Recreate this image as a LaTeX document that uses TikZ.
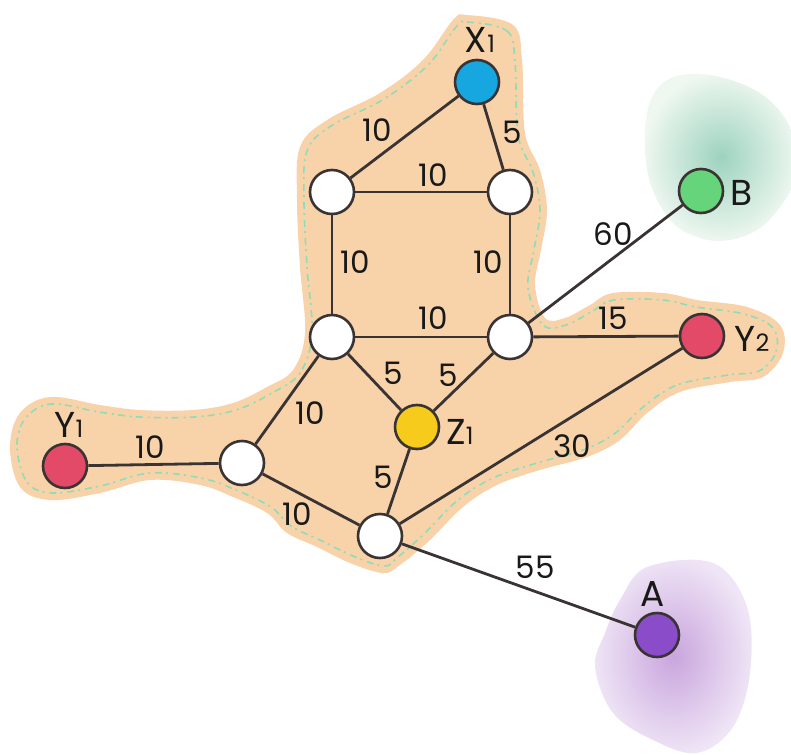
\documentclass[tikz,border=0pt]{standalone}
\usepackage{fontspec}
\setmainfont{Poppins}
\definecolor{peach}{HTML}{F8D3AA}
\definecolor{speck}{HTML}{8EDDB8}
\definecolor{edgec}{HTML}{3A3333}
\definecolor{xblue}{HTML}{17A7E0}
\definecolor{bgreen}{HTML}{66D47A}
\definecolor{yred}{HTML}{E24A68}
\definecolor{zyellow}{HTML}{F6CB1C}
\definecolor{apurple}{HTML}{8A4CC8}
\definecolor{greenin}{HTML}{9DD3BE}
\definecolor{greenout}{HTML}{EEF7F0}
\definecolor{purpin}{HTML}{C9A5DD}
\definecolor{purpout}{HTML}{EFE5F6}
\begin{document}
\begin{tikzpicture}[x=1pt,y=-1pt,
  vertex/.style={circle,draw=edgec,line width=2.6pt,minimum size=44pt,inner sep=0pt,fill=white},
  link/.style={draw=edgec,line width=2.8pt},
  wlabel/.style={font=\fontsize{31}{32}\selectfont,text=black!90,inner sep=0pt},
  nlabel/.style={font=\fontsize{36}{38}\selectfont,text=black!90,inner sep=0pt},
  subs/.style={},
  blob/.style={smooth cycle,tension=0.6}]
\useasboundingbox (0,0) rectangle (791,754);
% background regions
\fill[peach] plot[blob] coordinates {(467,15) (513,25) (522,60) (525,133) (540,170) (547,210) (541,250) (535,285) (545,318) (565,318) (590,305) (613,293) (663,293) (697,300) (747,307) (780,325) (783,353) (763,377) (730,382) (680,392) (647,413) (620,440) (587,457) (540,470) (497,485) (463,507) (430,540) (400,565) (383,573) (350,563) (317,547) (287,533) (267,513) (233,497) (200,485) (150,480) (100,493) (50,500) (20,487) (10,447) (20,413) (50,397) (100,405) (140,410) (193,410) (233,403) (267,387) (293,370) (305,333) (300,267) (297,200) (300,147) (327,120) (380,93) (423,60) (453,20)};
\draw[speck,line width=1.6pt,dash pattern=on 7pt off 5pt on 2pt off 4pt] plot[blob] coordinates {(467,22) (507,31) (515,62) (518,135) (533,172) (540,210) (534,250) (528,288) (543,325) (566,325) (591,312) (614,300) (663,300) (696,307) (744,314) (773,328) (776,352) (759,371) (728,375) (677,385) (642,408) (614,434) (583,450) (537,463) (493,478) (458,500) (425,533) (398,557) (384,566) (353,556) (320,540) (291,526) (271,507) (236,490) (201,478) (150,473) (100,486) (52,493) (27,482) (17,447) (25,419) (51,404) (99,412) (140,417) (194,417) (236,410) (272,393) (300,373) (312,333) (307,267) (304,200) (307,151) (331,126) (384,99) (428,65) (456,27)};
\shade[inner color=greenin,outer color=greenout] plot[blob] coordinates {(667,80) (710,75) (760,93) (790,127) (797,170) (785,200) (760,228) (730,240) (700,238) (670,220) (648,175) (647,113)};
\shade[inner color=purpin,outer color=purpout] plot[blob] coordinates {(620,600) (647,567) (713,563) (747,607) (750,673) (733,727) (697,753) (653,740) (613,713) (595,667) (605,633)};
% nodes
\node[vertex,fill=xblue] (x1) at (477,82) {};
\node[vertex] (tl) at (332,192) {};
\node[vertex] (tr) at (510,192) {};
\node[vertex] (ml) at (332,337) {};
\node[vertex] (mr) at (510,337) {};
\node[vertex,fill=zyellow] (z1) at (417,427) {};
\node[vertex,fill=yred] (y1) at (65,466) {};
\node[vertex,fill=yred] (y2) at (702,336) {};
\node[vertex] (ll) at (242,463) {};
\node[vertex] (bt) at (380,536) {};
\node[vertex,fill=bgreen] (b) at (701,191) {};
\node[vertex,fill=apurple] (a) at (657,635) {};
% edges
\path[link] (x1) -- (tl);
\path[link] (x1) -- (tr);
\path[link] (tl) -- (tr);
\path[link] (tl) -- (ml);
\path[link] (tr) -- (mr);
\path[link] (ml) -- (mr);
\path[link] (mr) -- (b);
\path[link] (mr) -- (y2);
\path[link] (ml) -- (z1);
\path[link] (mr) -- (z1);
\path[link] (ml) -- (ll);
\path[link] (y1) -- (ll);
\path[link] (z1) -- (bt);
\path[link] (ll) -- (bt);
\path[link] (y2) -- (bt);
\path[link] (bt) -- (a);
% node labels
\node[nlabel] (lx1) at (480,40) {X{\fontsize{24}{26}\selectfont 1}};
\node[nlabel] (ly1) at (69,425) {Y{\fontsize{24}{26}\selectfont 1}};
\node[nlabel] (ly2) at (752,339) {Y{\fontsize{24}{26}\selectfont 2}};
\node[nlabel] (lz1) at (460,432) {Z{\fontsize{24}{26}\selectfont 1}};
\node[nlabel] (lb) at (742,193) {B};
\node[nlabel] (la) at (653,594) {A};
% weights
\node[wlabel] (w1) at (377,130) {10};
\node[wlabel] (w2) at (512,132) {5};
\node[wlabel] (w3) at (433,175) {10};
\node[wlabel] (w4) at (355,262) {10};
\node[wlabel] (w5) at (488,262) {10};
\node[wlabel] (w6) at (433,318) {10};
\node[wlabel] (w7) at (613,318) {15};
\node[wlabel] (w8) at (613,234) {60};
\node[wlabel] (w9) at (393,373) {5};
\node[wlabel] (w10) at (448,375) {5};
\node[wlabel] (w11) at (383,477) {5};
\node[wlabel] (w12) at (572,446) {30};
\node[wlabel] (w13) at (535,567) {55};
\node[wlabel] (w14) at (310,413) {10};
\node[wlabel] (w15) at (150,447) {10};
\node[wlabel] (w16) at (297,514) {10};
\end{tikzpicture}
\end{document}
